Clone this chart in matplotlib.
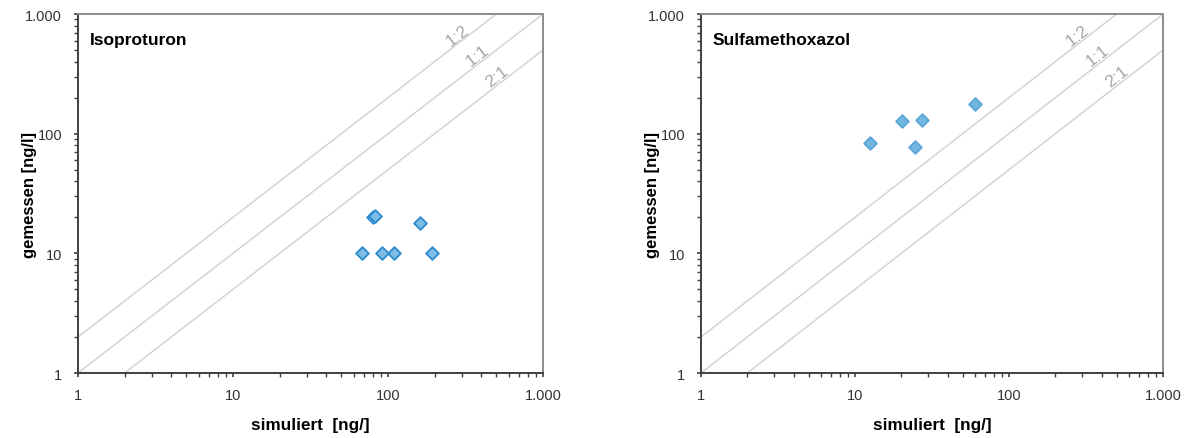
import math
import matplotlib
matplotlib.use("Agg")
import matplotlib.pyplot as plt
from matplotlib.ticker import LogLocator, FuncFormatter, NullFormatter

plt.rcParams["font.family"] = ["Liberation Sans", "DejaVu Sans"]

# data (simuliert vs. gemessen, ng/l)
iso_sim = [68, 80, 82, 92, 110, 160, 192]
iso_mes = [10, 20, 20.5, 10, 10, 18, 10]

sulfa_sim = [12.5, 20.2, 24.6, 27.2, 59.7]
sulfa_mes = [83, 127, 78, 131, 177]

ratio_labels = ["1:2", "1:1", "2:1"]
ratio_factors = [2.0, 1.0, 0.5]
ratio_label_x = [300, 402, 540]

panels = [
    ("Isoproturon", iso_sim, iso_mes, "#7dbde6", "#2a8ad0"),
    ("Sulfamethoxazol", sulfa_sim, sulfa_mes, "#74b6e2", "#5aa6da"),
]


def de_fmt(v, _):
    return f"{int(round(v)):,}".replace(",", ".")


fig = plt.figure(figsize=(11.86, 4.39), dpi=100)
# axes boxes in pixels: left, right, top, bottom
boxes = [(78, 543, 15, 374), (701, 1163, 15, 374)]

for box, (title, xs, ys, fill, edge) in zip(boxes, panels):
    x0, x1, y0, y1 = box
    ax = fig.add_axes([x0 / 1186, 1 - y1 / 439, (x1 - x0) / 1186, (y1 - y0) / 439])
    ax.set_xscale("log")
    ax.set_yscale("log")
    ax.set_xlim(1, 1000)
    ax.set_ylim(1, 1000)

    # ratio lines
    for f in ratio_factors:
        ax.plot([1, 1000], [f * 1, f * 1000], color="#d4d4d4", lw=1.1, zorder=1)

    ax.scatter(xs, ys, marker="D", s=42, facecolor=fill, edgecolor=edge,
               linewidth=1.3, zorder=3)

    # line labels, rotated along the diagonal on screen
    fig.canvas.draw()
    p1 = ax.transData.transform((1, 1))
    p2 = ax.transData.transform((1000, 1000))
    angle = math.degrees(math.atan2(p2[1] - p1[1], p2[0] - p1[0]))
    for lab, f, lx in zip(ratio_labels, ratio_factors, ratio_label_x):
        ax.text(lx, lx * f, lab, rotation=angle, rotation_mode="anchor",
                ha="center", va="bottom", fontsize=12.5, color="#a6a6a6",
                zorder=2)

    ax.text(12 / (x1 - x0), 0.93, title, transform=ax.transAxes, fontsize=12.5,
            fontweight="bold", ha="left", va="center")

    ax.set_xlabel("simuliert  [ng/]", fontsize=12.3, fontweight="bold")
    ax.xaxis.set_label_coords(0.5, -44 / (y1 - y0))
    ax.set_ylabel("gemessen [ng/l]", fontsize=12, fontweight="bold")
    ax.yaxis.set_label_coords(-41 / (x1 - x0), 0.5)

    for axis in (ax.xaxis, ax.yaxis):
        axis.set_major_locator(LogLocator(base=10, numticks=10))
        axis.set_minor_locator(LogLocator(base=10, subs=range(2, 10), numticks=10))
        axis.set_major_formatter(FuncFormatter(de_fmt))
        axis.set_minor_formatter(NullFormatter())

    ax.tick_params(which="major", direction="out", length=3, width=1.2,
                   color="#404040", labelsize=10.5, labelcolor="#333333")
    ax.tick_params(axis="y", which="major", pad=8.5)
    ax.tick_params(axis="x", which="major", pad=8)
    ax.tick_params(which="minor", direction="out", length=3, width=1.0,
                   color="#404040")
    for side in ["top", "right"]:
        ax.spines[side].set_color("#8c8c8c")
        ax.spines[side].set_linewidth(1.4)
    for side in ["left", "bottom"]:
        ax.spines[side].set_color("#404040")
        ax.spines[side].set_linewidth(1.4)

fig.savefig("out.png", dpi=100)
